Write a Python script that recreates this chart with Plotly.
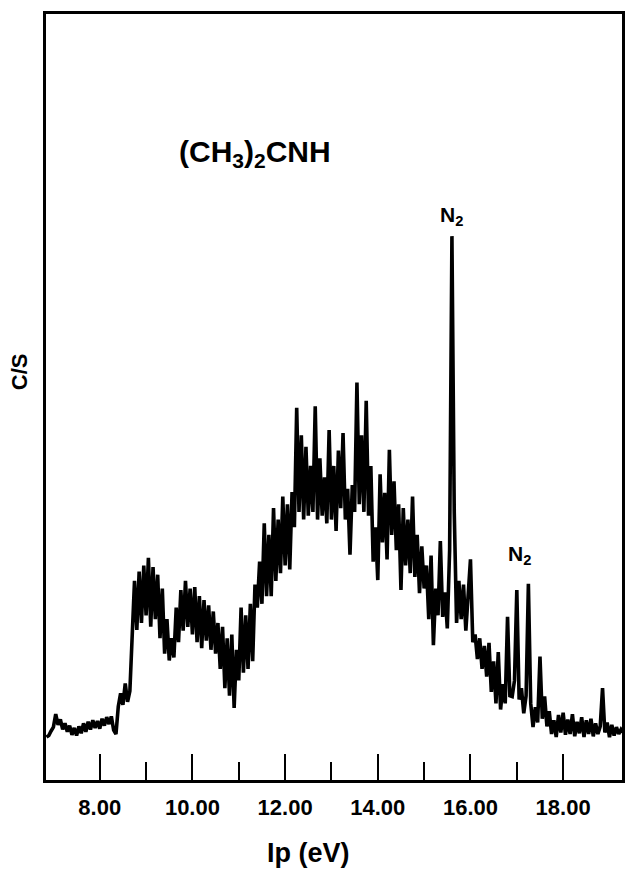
import plotly.graph_objects as go

# Photoelectron spectrum of (CH3)2CNH (arbitrary C/S units)
energy_start = 6.85   # eV, first sample
energy_step = 0.05    # eV, sampling interval
counts = [
    5.6,
    5.8, 6.4, 6.9, 8.6, 7.2, 7.9, 6.6, 7.4, 6.3, 7.1,
    5.9, 6.8, 5.8, 7.0, 6.1, 7.4, 6.3, 7.6, 6.6, 7.8,
    6.8, 7.7, 6.7, 8.0, 7.1, 8.2, 7.3, 8.3, 6.5, 6.0,
    9.6, 11.3, 9.8, 12.6, 10.2, 11.6, 19.5, 26.0, 19.6, 27.2,
    20.5, 28.0, 21.5, 29.0, 20.0, 27.8, 21.0, 26.8, 18.5, 25.0,
    16.5, 21.0, 15.6, 18.5, 16.0, 22.5, 18.0, 24.8, 19.5, 26.0,
    20.0, 25.0, 19.0, 25.2, 18.0, 24.0, 17.2, 23.5, 18.2, 22.8,
    17.0, 22.0, 16.5, 20.5, 14.5, 20.0, 12.0, 18.5, 11.0, 19.0,
    9.4, 17.0, 13.0, 22.5, 14.0, 21.5, 14.5, 23.0, 15.5, 25.5,
    22.5, 28.5, 23.0, 33.5, 24.0, 32.0, 24.0, 35.5, 26.0, 34.0,
    27.0, 37.0, 28.0, 36.0, 27.5, 37.6, 33.0, 48.6, 35.0, 45.0,
    34.0, 43.5, 34.5, 41.0, 35.0, 48.8, 34.0, 42.0, 34.5, 39.5,
    33.5, 45.7, 34.0, 41.0, 32.5, 43.0, 35.5, 45.3, 34.0, 38.0,
    29.4, 38.5, 35.0, 51.9, 36.0, 45.0, 35.0, 49.5, 34.5, 41.0,
    28.5, 33.0, 26.1, 39.9, 31.0, 37.5, 28.8, 43.1, 32.0, 39.0,
    30.0, 36.0, 24.8, 35.5, 28.0, 34.0, 27.0, 37.0, 26.5, 32.0,
    24.4, 30.5, 25.0, 28.0, 21.0, 29.3, 17.6, 25.0, 21.5, 31.2,
    21.3, 24.5, 19.8, 30.0, 71.0, 35.0, 20.5, 26.0, 21.0, 25.5,
    19.5, 24.0, 28.8, 18.0, 19.0, 15.8, 18.5, 14.5, 17.5, 13.5,
    17.9, 11.5, 15.5, 10.0, 16.7, 9.2, 12.5, 10.0, 21.3, 11.0,
    10.9, 13.0, 24.8, 10.5, 12.0, 8.7, 11.0, 25.6, 10.0, 6.9,
    9.5, 7.5, 16.1, 8.0, 10.9, 7.0, 9.0, 6.0, 7.8, 5.6,
    8.5, 6.2, 8.8, 5.9, 7.9, 6.0, 8.6, 5.7, 7.6, 6.1,
    8.2, 5.6, 7.8, 6.0, 8.0, 5.7, 7.4, 6.0, 7.0, 12.0,
    6.2, 7.5, 5.6, 7.2, 5.8, 6.9, 6.0, 6.6, 6.2,
]
energies = [round(energy_start + energy_step * i, 3) for i in range(len(counts))]

major_ticks = [8, 10, 12, 14, 16, 18]
major_labels = ["8.00", "10.00", "12.00", "14.00", "16.00", "18.00"]
minor_ticks = [9, 11, 13, 15, 17]

x_range = [6.84, 19.27]
y_range = [0, 100]

molecule_label = "(CH<sub>3</sub>)<sub>2</sub>CNH"
n2_labels = [(15.60, 73.6), (17.06, 29.4)]
molecule_pos = (11.35, 81.8)

W, H = 626, 869
ML, MR, MT, MB = 46, 1, 14, 89
FONT = "Liberation Sans, Arial, sans-serif"

fig = go.Figure()
fig.add_trace(go.Scatter(
    x=energies, y=counts, mode="lines",
    line=dict(color="black", width=3.6),
    showlegend=False, hoverinfo="skip",
))

fig.update_layout(
    width=W, height=H,
    margin=dict(l=ML, r=MR, t=MT, b=MB, pad=0),
    paper_bgcolor="white", plot_bgcolor="white",
    font=dict(family=FONT, color="black"),
    xaxis=dict(
        range=x_range, showgrid=False, zeroline=False,
        showline=True, linecolor="black", linewidth=2.6, mirror=True,
        tickmode="array", tickvals=major_ticks, ticktext=major_labels,
        ticks="inside", ticklen=26, tickwidth=1.6, tickcolor="black",
        ticklabelstandoff=6,
        tickfont=dict(family=FONT, size=22, color="black", weight="bold"),
        minor=dict(tickmode="array", tickvals=minor_ticks, ticks="inside",
                   ticklen=18, tickwidth=1.6, tickcolor="black", showgrid=False),
    ),
    yaxis=dict(
        range=y_range, showgrid=False, zeroline=False,
        showline=True, linecolor="black", linewidth=2.6, mirror=True,
        showticklabels=False, ticks="",
    ),
)

pw = W - ML - MR
ph = H - MT - MB


def px_x(px):
    return (px - ML) / pw


def px_y(py):
    return (H - MB - py) / ph


# axis titles
fig.add_annotation(text="<b>Ip (eV)</b>", xref="paper", yref="paper",
                   x=px_x(310), y=px_y(853), showarrow=False,
                   xanchor="center", yanchor="middle",
                   font=dict(family=FONT, size=27, color="black"))
fig.add_annotation(text="<b>C/S</b>", xref="paper", yref="paper",
                   x=px_x(19), y=px_y(372), showarrow=False, textangle=-90,
                   xanchor="center", yanchor="middle",
                   font=dict(family=FONT, size=22, color="black"))

# in-plot labels
fig.add_annotation(text="<b>" + molecule_label + "</b>", x=molecule_pos[0], y=molecule_pos[1],
                   xref="x", yref="y", showarrow=False, xanchor="center", yanchor="middle",
                   font=dict(family=FONT, size=30, color="black"))
for lx, ly in n2_labels:
    fig.add_annotation(text="<b>N<sub>2</sub></b>", x=lx, y=ly, xref="x", yref="y",
                       showarrow=False, xanchor="center", yanchor="middle",
                       font=dict(family=FONT, size=21, color="black"))

fig.write_html("out.html")
